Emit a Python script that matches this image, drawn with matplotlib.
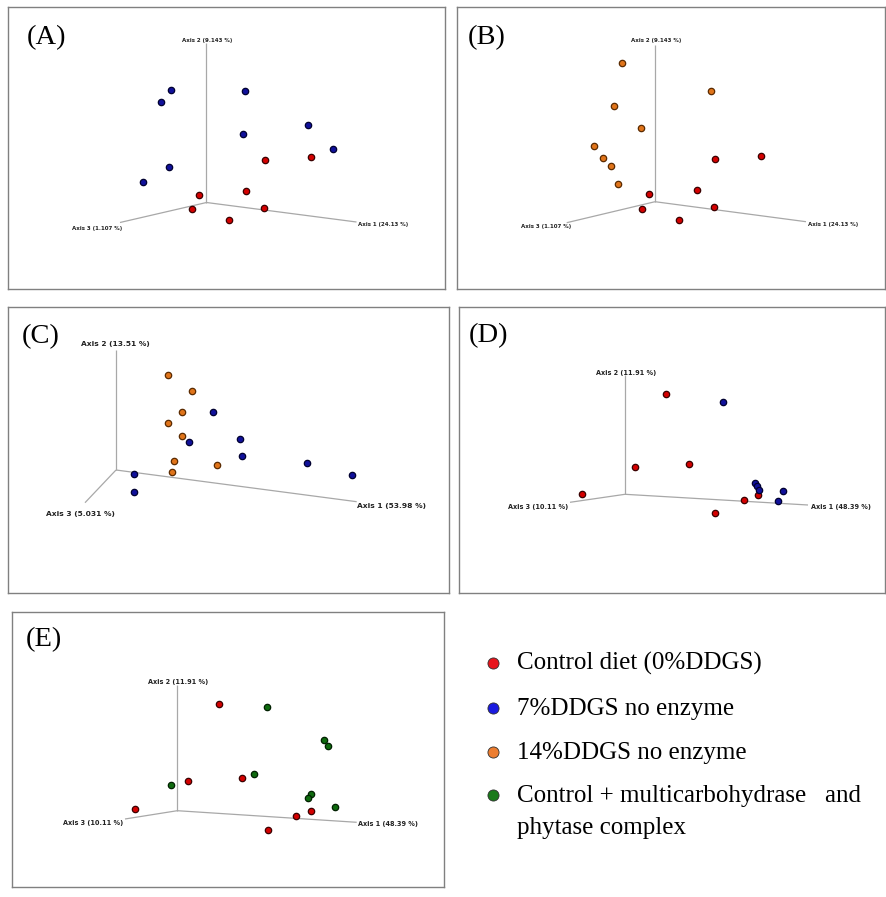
import matplotlib
matplotlib.use('Agg')
import matplotlib.pyplot as plt

# ---------------- data (projected PCoA scores, relative to the 3-D axes origin) -------------
A_red_x = [59, 105, 40, -7, -14, 58, 23]
A_red_y = [43, 46, 12, 8, -6, -5, -17]
A_blue_x = [-35, -45, 39, 37, 102, 127, -37, -63]
A_blue_y = [113, 101, 112, 69, 78, 54, 36, 21]

B_red_x = [60, 106, 42, -6, -13, 59, 24]
B_red_y = [43, 46, 12, 8, -7, -5, -18]
B_orange_x = [-33, -41, -14, -61, -52, -44, -37, 56]
B_orange_y = [139, 96, 74, 56, 44, 36, 18, 111]

C_orange_x = [52, 76, 66, 52, 66, 58, 56, 101]
C_orange_y = [95, 79, 58, 47, 34, 9, -2, 5]
C_blue_x = [97, 73, 124, 126, 191, 236, 18, 18]
C_blue_y = [58, 28, 31, 14, 7, -5, -4, -22]

D_red_x = [41, 10, 64, -43, 119, 133, 90]
D_red_y = [100, 27, 30, 0, -6, -1, -19]
D_blue_x = [98, 130, 132, 134, 158, 153]
D_blue_y = [92, 11, 8, 4, 3, -7]

E_red_x = [42, 11, 65, -42, 119, 134, 91]
E_red_y = [107, 30, 33, 2, -5, 0, -19]
E_green_x = [90, 147, 151, 77, -6, 134, 131, 158]
E_green_y = [104, 71, 65, 37, 26, 17, 13, 4]

axes_AB = ["Axis 1 (24.13 %)", "Axis 2 (9.143 %)", "Axis 3 (1.107 %)"]
axes_C = ["Axis 1 (53.98 %)", "Axis 2 (13.51 %)", "Axis 3 (5.031 %)"]
axes_DE = ["Axis 1 (48.39 %)", "Axis 2 (11.91 %)", "Axis 3 (10.11 %)"]

legend_labels = ["Control diet (0%DDGS)", "7%DDGS no enzyme", "14%DDGS no enzyme",
                 "Control + multicarbohydrase   and\nphytase complex"]

# ---------------- style ----------------
FACE = {'red': '#d40000', 'blue': '#10109a', 'orange': '#e0741a', 'green': '#0e6a0e'}
EDGE = {'red': '#3a0000', 'blue': '#000030', 'orange': '#5a2a00', 'green': '#002000'}
LEG = {'red': '#e8141c', 'blue': '#1a1ae0', 'orange': '#ec7d30', 'green': '#1a7a1a'}

W, H = 886, 897
fig = plt.figure(figsize=(W / 100, H / 100), dpi=100)
fig.patch.set_facecolor('white')

panels = [
    dict(tag='(A)', frame=(8, 7, 445, 289), origin=(206.5, 202.5),
         ends=[(150, -19.5), (0, 159.5), (-86.5, -20)], names=axes_AB, fs=4.0,
         lab=[((152, -22), 'left'), ((0.5, 162.5), 'center'), ((-84, -26), 'right')],
         tagoff=(19, 31),
         series=[('red', A_red_x, A_red_y), ('blue', A_blue_x, A_blue_y)]),
    dict(tag='(B)', frame=(457, 7, 885, 289), origin=(655, 201.7),
         ends=[(151, -20), (0, 156.7), (-88.3, -21)], names=axes_AB, fs=4.0,
         lab=[((153, -22.5), 'left'), ((1.5, 161.5), 'center'), ((-84, -25), 'right')],
         tagoff=(11, 31),
         series=[('red', B_red_x, B_red_y), ('orange', B_orange_x, B_orange_y)]),
    dict(tag='(C)', frame=(8, 307, 449, 593), origin=(116, 470),
         ends=[(240.7, -31.7), (0, 120), (-31, -32.7)], names=axes_C, fs=5.4,
         lab=[((241, -36), 'left'), ((-1, 126), 'center'), ((-36, -44), 'center')],
         tagoff=(14, 30),
         series=[('orange', C_orange_x, C_orange_y), ('blue', C_blue_x, C_blue_y)]),
    dict(tag='(D)', frame=(459, 307, 885, 593), origin=(625, 494.3),
         ends=[(183, -10.7), (0, 119.3), (-55, -8)], names=axes_DE, fs=4.7,
         lab=[((186, -12.7), 'left'), ((0.8, 121.6), 'center'), ((-57, -12.7), 'right')],
         tagoff=(10, 29),
         series=[('red', D_red_x, D_red_y), ('blue', D_blue_x, D_blue_y)]),
    dict(tag='(E)', frame=(12, 612, 444, 887), origin=(177.3, 810.7),
         ends=[(179.4, -11.6), (0, 125.7), (-52.3, -8.3)], names=axes_DE, fs=4.7,
         lab=[((181, -13.3), 'left'), ((1, 129), 'center'), ((-54, -12.6), 'right')],
         tagoff=(14, 28),
         series=[('red', E_red_x, E_red_y), ('green', E_green_x, E_green_y)]),
]

for p in panels:
    l, t, r, b = p['frame']
    ox, oy = p['origin']
    ax = fig.add_axes([l / W, 1 - b / H, (r - l) / W, (b - t) / H])
    ax.set_xlim(l - ox, r - ox)
    ax.set_ylim(oy - b, oy - t)
    ax.set_xticks([])
    ax.set_yticks([])
    for s in ax.spines.values():
        s.set_color('#808080')
        s.set_linewidth(1.0)
    for (ex, ey) in p['ends']:
        ax.plot([0, ex], [0, ey], color='#a8a8a8', lw=0.9, solid_capstyle='butt', zorder=1)
    for name, ((lx, ly), ha) in zip(p['names'], p['lab']):
        ax.text(lx, ly, name, fontsize=p['fs'], ha=ha, va='center', color='#222222',
                family='DejaVu Sans', fontweight='bold')
    for col, xs, ys in p['series']:
        ax.scatter(xs, ys, s=21, c=FACE[col], edgecolors=EDGE[col], linewidths=0.9, zorder=3)
    ax.annotate(p['tag'], xy=(0, 1), xycoords='axes fraction',
                xytext=(p['tagoff'][0], -p['tagoff'][1]), textcoords='offset pixels',
                ha='left', va='center', fontsize=20.5, family='Liberation Serif')

# ---------------- legend ----------------
lax = fig.add_axes([0, 0, 1, 1])
lax.set_xlim(0, W)
lax.set_ylim(H, 0)
lax.axis('off')
leg_cols = ['red', 'blue', 'orange', 'green']
leg_y = [663, 708, 752, 795]
for col, lab, yy in zip(leg_cols, legend_labels, leg_y):
    lax.plot([493], [yy], 'o', ms=8, mfc=LEG[col], mec='#303030', mew=0.6)
    for k, line in enumerate(lab.split('\n')):
        lax.text(517, yy + 7 + 32 * k, line, fontsize=18, family='Liberation Serif',
                 ha='left', va='baseline')

fig.savefig('out.png', dpi=100, facecolor='white')
